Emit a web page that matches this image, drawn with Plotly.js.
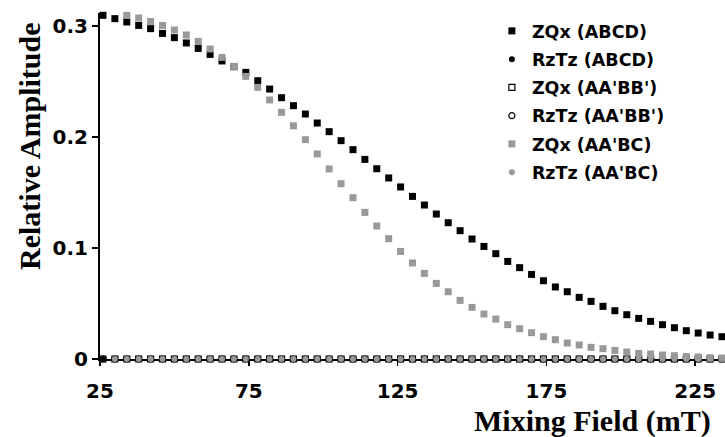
<!DOCTYPE html>
<html>
<head>
<meta charset="utf-8">
<script src="https://cdn.plot.ly/plotly-3.0.1.min.js"></script>
<style>html,body{margin:0;padding:0;background:#fff;}#chart{width:725px;height:437px;}</style>
</head>
<body>
<div id="chart"></div>
<script>
// Mixing field (mT)
const mixingField = [26,30,34,38,42,46,50,54,58,62,
  66,70,74,78,82,86,90,94,98,102,
  106,110,114,118,122,126,130,134,138,142,
  146,150,154,158,162,166,170,174,178,182,
  186,190,194,198,202,206,210,214,218,222,
  226,230,234];

const zqxABCD = [0.3096,0.3066,0.3036,0.3005,0.2976,0.2933,0.2895,0.2847,0.2798,0.2744,
  0.2685,0.2633,0.2582,0.2507,0.2432,0.2354,0.2282,0.2207,0.2126,0.2048,
  0.1967,0.1886,0.1798,0.1714,0.1631,0.1550,0.1465,0.1387,0.1306,0.1228,
  0.1156,0.1081,0.1014,0.0949,0.0879,0.0823,0.0762,0.0705,0.0649,0.0606,
  0.0555,0.0519,0.0474,0.0435,0.0399,0.0366,0.0339,0.0309,0.0282,0.0255,
  0.0234,0.0216,0.0201];

const zqxAABC = [null,null,0.3096,0.3072,0.3041,0.3005,0.2964,0.2919,0.2861,0.2793,
  0.2717,0.2636,0.2546,0.2447,0.2334,0.2222,0.2101,0.1976,0.1847,0.1712,
  0.1579,0.1453,0.1321,0.1198,0.1084,0.0969,0.0865,0.0771,0.0681,0.0606,
  0.0528,0.0465,0.0405,0.0360,0.0309,0.0273,0.0237,0.0201,0.0174,0.0144,
  0.0126,0.0105,0.0093,0.0077,0.0063,0.0050,0.0045,0.0036,0.0030,0.0023,
  0.0018,0.0012,0.0009];

const rztzABCD = [0,0,0,0,0,0,0,0,0,0, 0,0,0,0,0,0,0,0,0,0, 0,0,0,0,0,0,0,0,0,0,
  0,0,0,0,0,0,0,0,0,0, 0,0,0,0,0,0,0,0,0,0, 0,0,0];
const zqxAABB = [0,0,0,0,0,0,0,0,0,0, 0,0,0,0,0,0,0,0,0,0, 0,0,0,0,0,0,0,0,0,0,
  0,0,0,0,0,0,0,0,0,0, 0,0,0,0,0,0,0,0,0,0, 0,0,0];
const rztzAABB = [0,0,0,0,0,0,0,0,0,0, 0,0,0,0,0,0,0,0,0,0, 0,0,0,0,0,0,0,0,0,0,
  0,0,0,0,0,0,0,0,0,0, 0,0,0,0,0,0,0,0,0,0, 0,0,0];
const rztzAABC = [null,0,0,0,0,0,0,0,0,0, 0,0,0,0,0,0,0,0,0,0, 0,0,0,0,0,0,0,0,0,0,
  0,0,0,0,0,0,0,0,0,0, 0,0,0,0,0,0,0,0,0,0, 0,0,0];

const xTickVals = [25,75,125,175,225];
const xTickText = ['25','75','125','175','225'];
const yTickVals = [0,0.1,0.2,0.3];
const yTickText = ['0','0.1','0.2','0.3'];

const GRAY = '#999999';
function tr(name, y, symbol, color, lineColor, size, rank) {
  return {
    type: 'scatter', mode: 'markers', name: name, x: mixingField, y: y,
    legendrank: rank, legendgroup: 'g' + rank, cliponaxis: false,
    marker: {symbol: symbol, color: color, size: size, line: {color: lineColor, width: (color === '#ffffff') ? 1.2 : 0}}
  };
}

const data = [
  tr("ZQx (AA'BB')", zqxAABB, 'square', '#ffffff', '#000000', 6, 3),
  tr("RzTz (AA'BB')", rztzAABB, 'circle', '#ffffff', '#000000', 6, 4),
  tr('RzTz (ABCD)', rztzABCD, 'circle', '#000000', '#000000', 6, 2),
  tr("RzTz (AA'BC)", rztzAABC, 'circle', GRAY, GRAY, 6, 6),
  tr('ZQx (ABCD)', zqxABCD, 'square', '#000000', '#000000', 7, 1),
  tr("ZQx (AA'BC)", zqxAABC, 'square', GRAY, GRAY, 7, 5)
];

const tickFont = {family: 'DejaVu Sans', size: 20, color: '#000', weight: 'bold'};
const titleFont = {family: 'Liberation Serif', size: 30, color: '#000', weight: 'bold'};

const layout = {
  width: 725, height: 437,
  margin: {l: 100, r: 0, t: 13, b: 78},
  paper_bgcolor: '#fff', plot_bgcolor: '#fff',
  showlegend: true,
  legend: {
    x: 0.627, xanchor: 'left', y: 1.0, yanchor: 'top',
    font: {family: 'DejaVu Sans', size: 17.5, color: '#000', weight: 'bold'},
    tracegroupgap: 2.5, bgcolor: 'rgba(0,0,0,0)', itemwidth: 30
  },
  xaxis: {
    range: [25, 235], showgrid: false, zeroline: false,
    showline: true, linecolor: '#000', linewidth: 2,
    ticks: 'outside', ticklen: 5, tickwidth: 1.5, tickcolor: '#000',
    tickvals: xTickVals, ticktext: xTickText, tickfont: tickFont,
    ticklabelstandoff: 8, layer: 'below traces', fixedrange: true
  },
  yaxis: {
    range: [0, 0.3117], showgrid: false, zeroline: false,
    showline: true, linecolor: '#000', linewidth: 2,
    ticks: 'outside', ticklen: 6, tickwidth: 1.5, tickcolor: '#000',
    tickvals: yTickVals, ticktext: yTickText, tickfont: tickFont,
    layer: 'below traces', fixedrange: true
  },
  annotations: [
    {text: 'Relative Amplitude', xref: 'paper', yref: 'paper', x: -0.1136, y: 0.6156,
     xanchor: 'center', yanchor: 'middle', textangle: -90, showarrow: false, font: titleFont},
    {text: 'Mixing Field (mT)', xref: 'paper', yref: 'paper', x: 0.981, y: -0.179,
     xanchor: 'right', yanchor: 'middle', showarrow: false, font: titleFont}
  ]
};

Plotly.newPlot('chart', data, layout, {displayModeBar: false, staticPlot: true});
</script>
</body>
</html>
